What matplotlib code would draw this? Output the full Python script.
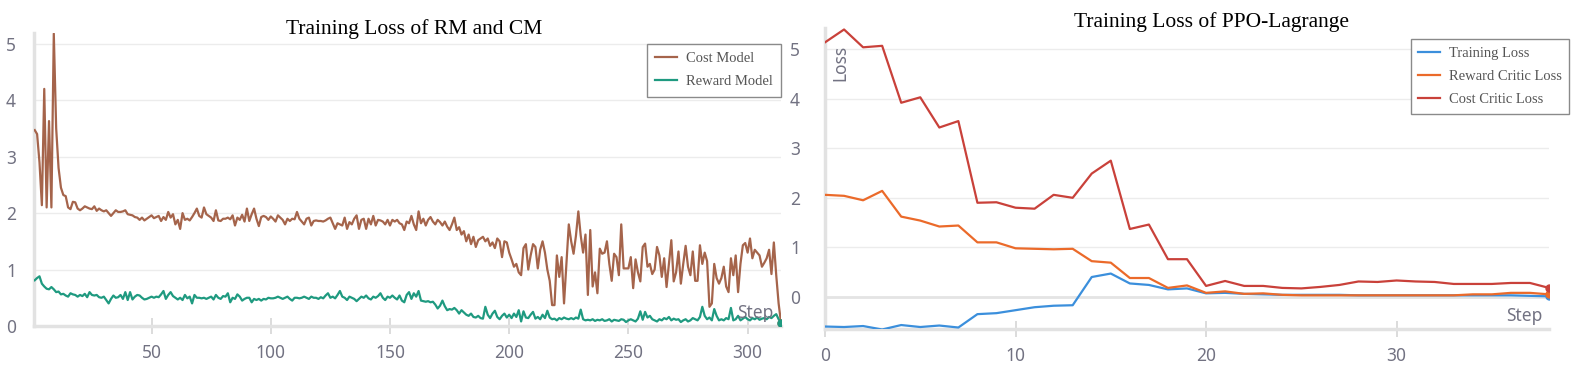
import matplotlib
matplotlib.use("Agg")
import matplotlib.pyplot as plt

# ---------------- data: left panel (RM / CM training loss) ----------------
rm_steps = list(range(1, 315))
cost_model = [
    3.47, 3.40, 2.90, 2.14, 4.20, 2.10, 3.63, 2.10, 5.18, 3.50,
    2.80, 2.45, 2.32, 2.30, 2.10, 2.07, 2.20, 2.19, 2.08, 2.05,
    2.08, 2.12, 2.10, 2.08, 2.07, 2.12, 2.04, 2.08, 2.05, 2.03,
    2.05, 2.00, 1.95, 2.00, 2.05, 2.02, 2.02, 2.03, 2.05, 1.98,
    1.97, 1.96, 1.93, 1.92, 1.88, 1.92, 1.87, 1.90, 1.93, 1.96,
    1.91, 1.93, 1.95, 1.86, 1.93, 1.88, 2.02, 1.92, 1.98, 1.80,
    1.88, 1.72, 2.00, 1.88, 1.90, 1.87, 1.93, 2.00, 2.08, 1.95,
    1.92, 2.10, 1.98, 1.95, 1.92, 1.86, 2.05, 1.87, 1.86, 1.90,
    1.90, 1.92, 1.89, 1.96, 1.78, 1.92, 1.88, 1.97, 1.85, 2.08,
    1.86, 1.98, 2.08, 1.90, 1.77, 1.93, 1.95, 1.93, 1.88, 1.94,
    1.90, 1.85, 1.96, 1.92, 1.88, 1.80, 1.90, 1.86, 1.90, 1.89,
    2.02, 1.90, 1.85, 1.80, 1.90, 1.92, 1.78, 1.86, 1.87, 1.86,
    1.86, 1.85, 1.87, 1.90, 1.92, 1.82, 1.72, 1.82, 1.80, 1.78,
    1.92, 1.72, 1.84, 1.80, 1.90, 1.96, 1.72, 1.88, 1.90, 1.72,
    1.90, 1.80, 1.95, 1.78, 1.88, 1.87, 1.85, 1.80, 1.88, 1.78,
    1.88, 1.85, 1.88, 1.82, 1.80, 1.70, 1.85, 1.82, 1.95, 1.80,
    1.70, 2.03, 1.82, 1.90, 1.78, 1.88, 1.93, 1.85, 1.80, 1.88,
    1.84, 1.78, 1.85, 1.76, 1.70, 1.80, 1.92, 1.70, 1.75, 1.62,
    1.68, 1.50, 1.62, 1.45, 1.58, 1.40, 1.52, 1.55, 1.58, 1.50,
    1.55, 1.42, 1.48, 1.38, 1.55, 1.50, 1.22, 1.50, 1.48, 1.30,
    1.18, 1.05, 1.10, 0.95, 0.90, 1.38, 1.45, 1.00, 1.25, 1.45,
    1.40, 1.02, 1.35, 1.50, 1.30, 1.00, 0.80, 0.37, 0.37, 1.25,
    0.87, 1.22, 0.40, 1.10, 1.80, 1.50, 1.28, 1.60, 2.03, 1.60,
    1.30, 1.62, 0.55, 1.70, 0.70, 0.95, 0.58, 1.37, 1.28, 1.30,
    1.50, 1.10, 0.80, 1.28, 1.22, 0.90, 1.80, 1.02, 1.02, 1.02,
    1.22, 0.67, 1.18, 0.95, 0.79, 1.40, 1.46, 1.05, 1.10, 0.92,
    1.00, 1.40, 1.25, 0.87, 1.20, 0.69, 1.10, 1.52, 0.79, 0.95,
    1.32, 0.75, 1.10, 1.42, 1.05, 0.90, 1.32, 0.80, 0.80, 1.43,
    1.10, 1.30, 1.15, 0.34, 0.40, 1.10, 0.85, 0.75, 0.85, 1.05,
    0.70, 0.60, 1.20, 0.90, 1.25, 0.60, 1.10, 1.43, 1.47, 1.30,
    1.55, 1.20, 1.35, 1.30, 1.25, 1.05, 1.12, 1.20, 1.35, 0.92,
    1.48, 0.90, 0.40, 0.06,
]
reward_model = [
    0.81, 0.85, 0.88, 0.75, 0.70, 0.66, 0.65, 0.69, 0.65, 0.60,
    0.61, 0.56, 0.57, 0.54, 0.52, 0.58, 0.56, 0.55, 0.52, 0.55,
    0.53, 0.57, 0.51, 0.60, 0.55, 0.54, 0.55, 0.51, 0.50, 0.52,
    0.46, 0.40, 0.48, 0.54, 0.50, 0.51, 0.55, 0.48, 0.60, 0.46,
    0.60, 0.47, 0.52, 0.55, 0.54, 0.50, 0.47, 0.48, 0.50, 0.52,
    0.50, 0.52, 0.51, 0.56, 0.62, 0.48, 0.55, 0.60, 0.53, 0.50,
    0.47, 0.50, 0.46, 0.55, 0.49, 0.52, 0.40, 0.55, 0.50, 0.50,
    0.49, 0.50, 0.48, 0.50, 0.52, 0.47, 0.55, 0.50, 0.48, 0.53,
    0.52, 0.58, 0.42, 0.50, 0.48, 0.56, 0.52, 0.45, 0.48, 0.50,
    0.50, 0.42, 0.48, 0.46, 0.48, 0.45, 0.48, 0.47, 0.50, 0.49,
    0.49, 0.50, 0.52, 0.50, 0.48, 0.50, 0.52, 0.48, 0.45, 0.50,
    0.50, 0.49, 0.50, 0.52, 0.50, 0.48, 0.52, 0.50, 0.50, 0.48,
    0.51, 0.49, 0.54, 0.58, 0.50, 0.52, 0.49, 0.55, 0.62, 0.52,
    0.50, 0.46, 0.52, 0.50, 0.48, 0.44, 0.48, 0.52, 0.50, 0.54,
    0.49, 0.47, 0.52, 0.50, 0.53, 0.58, 0.50, 0.46, 0.52, 0.50,
    0.54, 0.50, 0.47, 0.54, 0.45, 0.42, 0.55, 0.60, 0.48, 0.58,
    0.52, 0.62, 0.45, 0.44, 0.43, 0.44, 0.42, 0.43, 0.38, 0.31,
    0.36, 0.45, 0.35, 0.28, 0.30, 0.29, 0.32, 0.28, 0.22, 0.28,
    0.24, 0.20, 0.18, 0.22, 0.16, 0.15, 0.18, 0.14, 0.13, 0.34,
    0.20, 0.14, 0.22, 0.27, 0.16, 0.12, 0.18, 0.22, 0.15, 0.20,
    0.14, 0.22, 0.16, 0.28, 0.08, 0.26, 0.15, 0.14, 0.20, 0.25,
    0.13, 0.16, 0.12, 0.20, 0.14, 0.27, 0.15, 0.12, 0.13, 0.10,
    0.14, 0.12, 0.15, 0.13, 0.12, 0.14, 0.12, 0.15, 0.13, 0.29,
    0.12, 0.10, 0.11, 0.10, 0.12, 0.09, 0.11, 0.10, 0.12, 0.09,
    0.10, 0.12, 0.08, 0.11, 0.10, 0.09, 0.12, 0.11, 0.07, 0.10,
    0.12, 0.10, 0.08, 0.13, 0.26, 0.11, 0.25, 0.15, 0.18, 0.12,
    0.10, 0.08, 0.12, 0.10, 0.14, 0.12, 0.16, 0.10, 0.13, 0.11,
    0.12, 0.07, 0.10, 0.12, 0.08, 0.10, 0.14, 0.12, 0.10, 0.16,
    0.34, 0.18, 0.12, 0.15, 0.10, 0.30, 0.18, 0.10, 0.12, 0.10,
    0.14, 0.12, 0.32, 0.10, 0.12, 0.18, 0.10, 0.13, 0.16, 0.12,
    0.10, 0.14, 0.12, 0.15, 0.11, 0.13, 0.14, 0.12, 0.16, 0.14,
    0.18, 0.21, 0.12, 0.05,
]

# ---------------- data: right panel (PPO-Lagrange) ----------------
ppo_steps = list(range(0, 39))
training_loss = [
    -0.60, -0.61, -0.59, -0.66, -0.57, -0.61, -0.58, -0.62, -0.35, -0.33,
    -0.27, -0.21, -0.18, -0.17, 0.40, 0.47, 0.27, 0.24, 0.15, 0.17,
    0.07, 0.08, 0.06, 0.05, 0.04, 0.04, 0.04, 0.04, 0.03, 0.03,
    0.03, 0.03, 0.03, 0.03, 0.03, 0.03, 0.03, 0.02, 0.01,
]
reward_critic = [
    2.06, 2.04, 1.95, 2.14, 1.62, 1.54, 1.42, 1.44, 1.10, 1.10,
    0.98, 0.97, 0.96, 0.97, 0.72, 0.69, 0.38, 0.38, 0.18, 0.23,
    0.08, 0.11, 0.06, 0.07, 0.04, 0.03, 0.03, 0.03, 0.03, 0.03,
    0.03, 0.03, 0.03, 0.03, 0.05, 0.05, 0.08, 0.08, 0.05,
]
cost_critic = [
    5.14, 5.40, 5.04, 5.07, 3.92, 4.03, 3.42, 3.55, 1.90, 1.91,
    1.80, 1.78, 2.06, 2.00, 2.49, 2.75, 1.37, 1.46, 0.76, 0.76,
    0.22, 0.32, 0.22, 0.22, 0.18, 0.17, 0.20, 0.24, 0.31, 0.30,
    0.33, 0.31, 0.30, 0.26, 0.26, 0.26, 0.28, 0.28, 0.18,
]

left_xticks = [50, 100, 150, 200, 250, 300]
left_yticks = [0, 1, 2, 3, 4, 5]
right_xticks = [0, 10, 20, 30]
right_yticks = [0, 1, 2, 3, 4, 5]

C_COST = "#a5644b"
C_REWARD = "#1f9a80"
C_TRAIN = "#3b8fdc"
C_RCRIT = "#eb6a2a"
C_CCRIT = "#c9413a"
TICK_COLOR = "#727282"
GRID_COLOR = "#ececec"
SPINE_COLOR = "#e2e2e2"
SERIF = ["Liberation Serif", "DejaVu Serif"]
SANS = ["Noto Sans", "DejaVu Sans"]

W, H = 1578, 366
fig = plt.figure(figsize=(W / 100, H / 100), dpi=100)
fig.patch.set_facecolor("white")

ax1 = fig.add_axes([34 / W, 1 - 326 / H, (781 - 34) / W, (326 - 33) / H])
ax2 = fig.add_axes([825 / W, 1 - 329 / H, (1549 - 825) / W, (329 - 28) / H])


def style(ax, xticks, yticks, ypad):
    for s in ["top", "right"]:
        ax.spines[s].set_visible(False)
    for s in ["left", "bottom"]:
        ax.spines[s].set_color(SPINE_COLOR)
        ax.spines[s].set_linewidth(2.5)
    ax.set_xticks(xticks)
    ax.set_yticks(yticks)
    ax.tick_params(axis="x", direction="inout", length=12, width=1.2,
                   color="#d6d6d6", labelcolor=TICK_COLOR, labelsize=12.5, pad=7)
    ax.tick_params(axis="y", length=0, labelcolor=TICK_COLOR, labelsize=12.5, pad=ypad)
    for lab in ax.get_xticklabels() + ax.get_yticklabels():
        lab.set_fontfamily(SANS)
    ax.grid(axis="y", color=GRID_COLOR, linewidth=1.0)
    ax.set_axisbelow(True)
    ax.set_facecolor("white")


# ---------------- left panel ----------------
ax1.plot(rm_steps, cost_model, color=C_COST, lw=1.6, label="Cost Model", zorder=3)
ax1.plot(rm_steps, reward_model, color=C_REWARD, lw=1.6, label="Reward Model", zorder=3)
ax1.plot(rm_steps[-1:], cost_model[-1:], "o", color=C_COST, ms=5, zorder=4)
ax1.plot(rm_steps[-1:], reward_model[-1:], "o", color=C_REWARD, ms=5, zorder=4)
ax1.set_xlim(0.7, 314)
ax1.set_ylim(0, 5.19)
style(ax1, left_xticks, left_yticks, 13)
ax1.text(0.965, 0.045, "Step", transform=ax1.transAxes, ha="center", va="center",
         color=TICK_COLOR, fontsize=12.5, family=SANS, zorder=5)
leg1 = ax1.legend(loc="upper right", bbox_to_anchor=(1.0, 0.963), borderaxespad=0,
                  frameon=True, fancybox=False, framealpha=1, edgecolor="#8a8a8a",
                  prop={"family": SERIF, "size": 10.5}, handlelength=1.5,
                  handletextpad=0.6, labelspacing=0.7, borderpad=0.55)
leg1.get_frame().set_linewidth(1.0)
for t in leg1.get_texts():
    t.set_color("#555555")

fig.text(414 / W, 1 - 34 / H, "Training Loss of RM and CM", ha="center", va="baseline",
         family=SERIF, fontsize=15.5, color="black")

# ---------------- right panel ----------------
ax2.plot(ppo_steps, training_loss, color=C_TRAIN, lw=1.6, label="Training Loss", zorder=3)
ax2.plot(ppo_steps, reward_critic, color=C_RCRIT, lw=1.6, label="Reward Critic Loss", zorder=3)
ax2.plot(ppo_steps, cost_critic, color=C_CCRIT, lw=1.6, label="Cost Critic Loss", zorder=3)
ax2.plot(ppo_steps[-1:], training_loss[-1:], "o", color=C_TRAIN, ms=5, zorder=4)
ax2.plot(ppo_steps[-1:], reward_critic[-1:], "o", color=C_RCRIT, ms=5, zorder=4)
ax2.plot(ppo_steps[-1:], cost_critic[-1:], "o", color=C_CCRIT, ms=5, zorder=4)
ax2.set_xlim(0, 38)
ax2.set_ylim(-0.65, 5.43)
style(ax2, right_xticks, right_yticks, 18)
ax2.axhline(0, color="#e4e4e4", lw=2.0, zorder=1)
ax2.text(0.966, 0.043, "Step", transform=ax2.transAxes, ha="center", va="center",
         color=TICK_COLOR, fontsize=12.5, family=SANS, zorder=5)
ax2.text(0.021, 0.885, "Loss", transform=ax2.transAxes, ha="center", va="center",
         rotation=90, color=TICK_COLOR, fontsize=12.5, family=SANS, zorder=5)
leg2 = ax2.legend(loc="upper right", bbox_to_anchor=(1.028, 0.963), borderaxespad=0,
                  frameon=True, fancybox=False, framealpha=1, edgecolor="#8a8a8a",
                  prop={"family": SERIF, "size": 10.5}, handlelength=1.5,
                  handletextpad=0.6, labelspacing=0.7, borderpad=0.5)
leg2.get_frame().set_linewidth(1.0)
for t in leg2.get_texts():
    t.set_color("#555555")

fig.text(1212 / W, 1 - 27 / H, "Training Loss of PPO-Lagrange", ha="center", va="baseline",
         family=SERIF, fontsize=15.5, color="black")

fig.savefig("out.png", dpi=100, facecolor="white")
